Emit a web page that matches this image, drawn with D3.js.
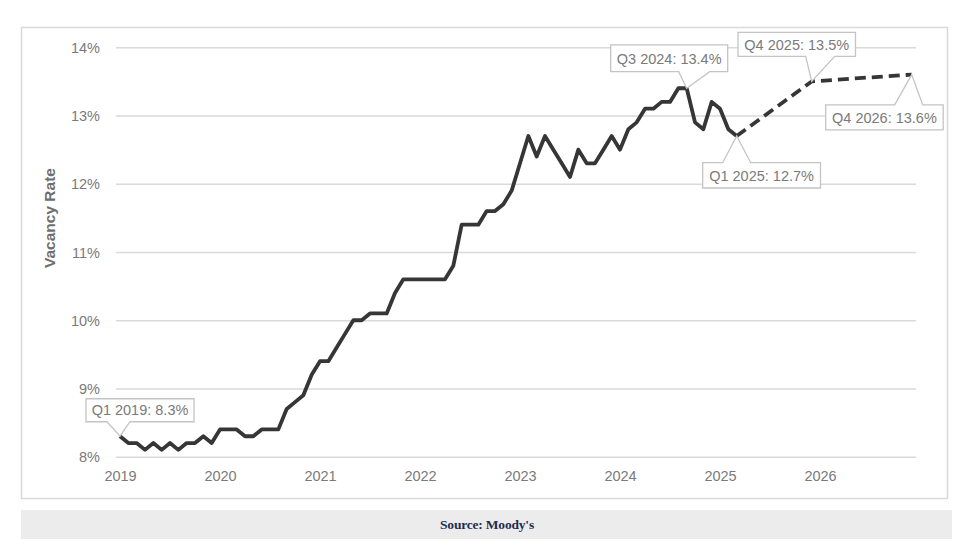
<!DOCTYPE html>
<html>
<head>
<meta charset="utf-8">
<script src="https://cdn.jsdelivr.net/npm/d3@7"></script>
<style>
  html, body { margin: 0; padding: 0; background: #ffffff; }
  svg { display: block; }
</style>
</head>
<body>
<svg id="chart" width="975" height="545"></svg>
<script>
// ---- Data (monthly, Jan 2019 = index 0) ----
const actualMonths = d3.range(0, 75); // Jan 2019 .. Mar 2025
const actualValues = [
  8.3, 8.2, 8.2, 8.1, 8.2, 8.1, 8.2, 8.1, 8.2, 8.2, 8.3, 8.2,      // 2019
  8.4, 8.4, 8.4, 8.3, 8.3, 8.4, 8.4, 8.4, 8.7, 8.8, 8.9, 9.2,      // 2020
  9.4, 9.4, 9.6, 9.8, 10.0, 10.0, 10.1, 10.1, 10.1, 10.4, 10.6, 10.6, // 2021
  10.6, 10.6, 10.6, 10.6, 10.8, 11.4, 11.4, 11.4, 11.6, 11.6, 11.7, 11.9, // 2022
  12.3, 12.7, 12.4, 12.7, 12.5, 12.3, 12.1, 12.5, 12.3, 12.3, 12.5, 12.7, // 2023
  12.5, 12.8, 12.9, 13.1, 13.1, 13.2, 13.2, 13.4, 13.4, 12.9, 12.8, 13.2, // 2024
  13.1, 12.8, 12.7                                                  // 2025
];
const forecastMonths = [74, 83, 95];
const forecastValues = [12.7, 13.5, 13.6];

const yearLabels = ["2019", "2020", "2021", "2022", "2023", "2024", "2025", "2026"];
const yearTickMonths = [0, 12, 24, 36, 48, 60, 72, 84];
const yTicks = [8, 9, 10, 11, 12, 13, 14];

const calloutLabels = ["Q1 2019: 8.3%", "Q3 2024: 13.4%", "Q4 2025: 13.5%", "Q4 2026: 13.6%", "Q1 2025: 12.7%"];
const calloutMonths = [0, 68, 83, 95, 74];
const calloutValues = [8.3, 13.4, 13.5, 13.6, 12.7];

// ---- Layout ----
const svg = d3.select("#chart");
const x = d3.scaleLinear().domain([0, 95]).range([120, 911.7]);
const y = d3.scaleLinear().domain([8, 14]).range([456.7, 47.3]);
const gridX0 = 116, gridX1 = 916;

// Frame
svg.append("rect")
  .attr("x", 21.5).attr("y", 27.5).attr("width", 926).attr("height", 471)
  .attr("fill", "#fff").attr("stroke", "#d9d9d9").attr("stroke-width", 1.5);

// Source bar
svg.append("rect")
  .attr("x", 21).attr("y", 510).attr("width", 931).attr("height", 29)
  .attr("fill", "#ececec");
svg.append("text")
  .attr("x", 487).attr("y", 529)
  .attr("text-anchor", "middle")
  .attr("font-family", "'Liberation Serif', 'DejaVu Serif', serif")
  .attr("font-weight", "bold")
  .attr("font-size", 13.5)
  .attr("letter-spacing", -0.2)
  .attr("fill", "#1f2d4d")
  .text("Source: Moody's");

// Y axis with gridlines
const yAxis = d3.axisLeft(y)
  .tickValues(yTicks)
  .tickSize(-(gridX1 - gridX0))
  .tickPadding(16)
  .tickFormat(d => d + "%");
const gy = svg.append("g")
  .attr("transform", `translate(${gridX0},0)`)
  .call(yAxis);
gy.select(".domain").remove();
gy.selectAll(".tick line").attr("stroke", "#d9d9d9").attr("stroke-width", 1.5);
gy.selectAll(".tick text")
  .attr("fill", "#7a7a7a")
  .attr("font-family", "'Liberation Sans', Arial, sans-serif")
  .attr("font-size", 14.5)
  .attr("dy", "0.35em");

// X axis labels
const xAxis = d3.axisBottom(x)
  .tickValues(yearTickMonths)
  .tickSize(0)
  .tickPadding(14)
  .tickFormat((d, i) => yearLabels[i]);
const gx = svg.append("g")
  .attr("transform", `translate(0,${y(8)})`)
  .call(xAxis);
gx.select(".domain").remove();
gx.selectAll(".tick text")
  .attr("fill", "#7a7a7a")
  .attr("font-family", "'Liberation Sans', Arial, sans-serif")
  .attr("font-size", 14.5);

// Y axis title
svg.append("text")
  .attr("transform", "translate(55,218) rotate(-90)")
  .attr("text-anchor", "middle")
  .attr("font-family", "'Liberation Sans', Arial, sans-serif")
  .attr("font-weight", "bold")
  .attr("font-size", 15.5)
  .attr("fill", "#6e6e6e")
  .text("Vacancy Rate");

// Lines
const line = d3.line().x(d => x(d[0])).y(d => y(d[1]));
svg.append("path")
  .datum(actualMonths.map((m, i) => [m, actualValues[i]]))
  .attr("d", line)
  .attr("fill", "none")
  .attr("stroke", "#363636")
  .attr("stroke-width", 3.8)
  .attr("stroke-linejoin", "round");
svg.append("path")
  .datum(forecastMonths.map((m, i) => [m, forecastValues[i]]))
  .attr("d", line)
  .attr("fill", "none")
  .attr("stroke", "#363636")
  .attr("stroke-width", 3.8)
  .attr("stroke-dasharray", "11,6")
  .attr("stroke-linejoin", "round");

// Callouts: box relative to the tip, wedge base points, edge of wedge
const calloutLayout = [
  { bx: [-34, 74], by: [-37.5, -14.5], base: [-13, 10], edge: "bottom" },
  { bx: [-76, 41], by: [-43.3, -16.6], base: [-8, 23], edge: "bottom" },
  { bx: [-73.7, 43.8], by: [-49, -25], base: [-6, 23], edge: "bottom" },
  { bx: [-86, 31.5], by: [30.3, 55.3], base: [-17, 11], edge: "top" },
  { bx: [-34, 83.8], by: [26.7, 52], base: [-14, 14], edge: "top" }
];

calloutLabels.forEach((label, i) => {
  const tx = x(calloutMonths[i]), ty = y(calloutValues[i]);
  const L = calloutLayout[i];
  const x0 = tx + L.bx[0], x1 = tx + L.bx[1];
  const y0 = ty + L.by[0], y1 = ty + L.by[1];
  const b1 = tx + L.base[0], b2 = tx + L.base[1];
  const p = d3.path();
  if (L.edge === "bottom") {
    p.moveTo(x0, y0); p.lineTo(x1, y0); p.lineTo(x1, y1);
    p.lineTo(b2, y1); p.lineTo(tx, ty); p.lineTo(b1, y1);
    p.lineTo(x0, y1); p.closePath();
  } else {
    p.moveTo(x0, y1); p.lineTo(x1, y1); p.lineTo(x1, y0);
    p.lineTo(b2, y0); p.lineTo(tx, ty); p.lineTo(b1, y0);
    p.lineTo(x0, y0); p.closePath();
  }
  svg.append("path")
    .attr("d", p.toString())
    .attr("fill", "#fff")
    .attr("stroke", "#c4c4c4")
    .attr("stroke-width", 1.3);
  svg.append("text")
    .attr("x", (x0 + x1) / 2)
    .attr("y", (y0 + y1) / 2)
    .attr("dy", "0.36em")
    .attr("text-anchor", "middle")
    .attr("font-family", "'Liberation Sans', Arial, sans-serif")
    .attr("font-size", 14.5)
    .attr("fill", "#7a7a7a")
    .text(label);
});
</script>
</body>
</html>
